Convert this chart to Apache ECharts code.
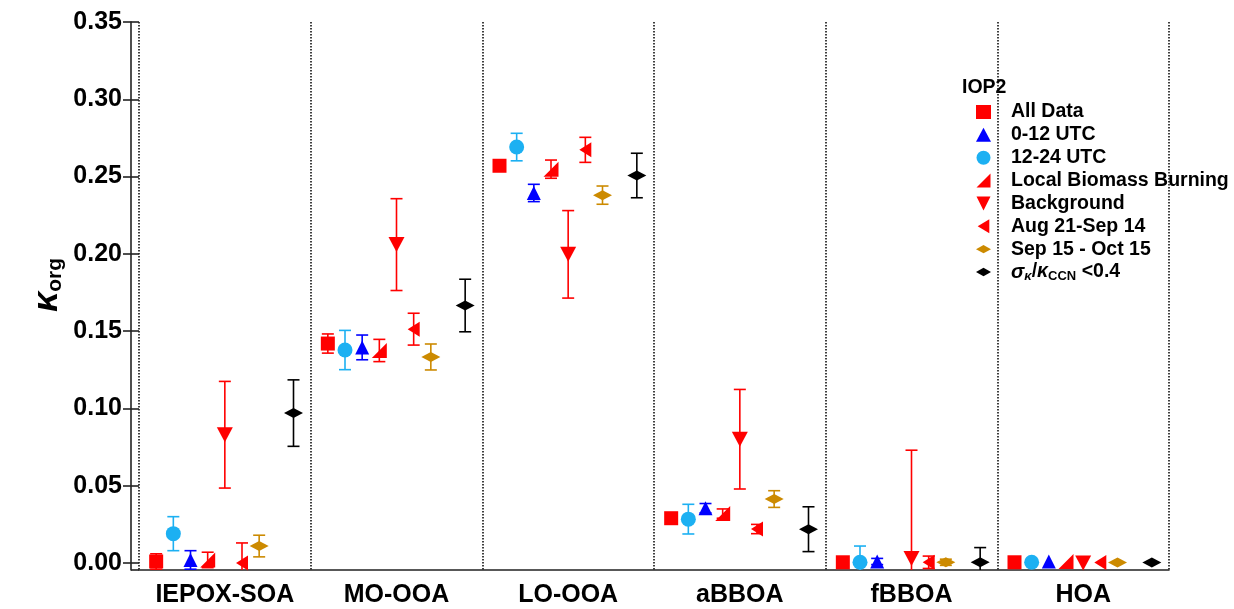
<!DOCTYPE html>
<html>
<head>
<meta charset="utf-8">
<script src="https://cdn.jsdelivr.net/npm/echarts@6/dist/echarts.min.js"></script>
<style>
  html, body { margin: 0; padding: 0; background: #fff; }
  #korgChart { width: 1234px; height: 609px; }
</style>
</head>
<body>
<div id="korgChart"></div>
<script>
// factor types on the x axis
const categories = ['IEPOX-SOA', 'MO-OOA', 'LO-OOA', 'aBBOA', 'fBBOA', 'HOA']
const yTicks = [0, 0.05, 0.10, 0.15, 0.20, 0.25, 0.30, 0.35]

// kappa_org and its error for every subset
const allData = [0.001, 0.142, 0.257, 0.029, 0.0005, 0.0005]
const allDataErr = [0.005, 0.0062, 0, 0, 0, 0]
const utc0012 = [0.002, 0.1395, 0.2394, 0.0355, 0.001, 0.001]
const utc0012Err = [0.006, 0.008, 0.0056, 0.003, 0.002, 0]
const utc1224 = [0.019, 0.1378, 0.2691, 0.0284, 0.0005, 0.0005]
const utc1224Err = [0.011, 0.0127, 0.0089, 0.0096, 0.0105, 0]
const localBB = [0.002, 0.1375, 0.2548, 0.032, null, 0.001]
const localBBErr = [0.005, 0.0072, 0.0059, 0.003, null, 0]
const background = [0.083, 0.206, 0.1997, 0.0801, 0.003, 0]
const backgroundErr = [0.0345, 0.0297, 0.0283, 0.0322, 0.070, 0]
const augSep = [0, 0.1513, 0.2673, 0.022, 0.0005, 0.0003]
const augSepErr = [0.013, 0.0103, 0.0081, 0.003, 0.004, 0]
const sepOct = [0.011, 0.1333, 0.238, 0.0414, 0.0005, 0.0003]
const sepOctErr = [0.007, 0.0084, 0.0059, 0.0054, 0.002, 0]
const lowSigma = [0.097, 0.1666, 0.2507, 0.0219, 0.0005, 0.0003]
const lowSigmaErr = [0.0215, 0.017, 0.0144, 0.0145, 0.0095, 0]

const Y_MIN = -0.0045
const Y_MAX = 0.35
const FONT = '"Liberation Sans", Arial, sans-serif'

const subsets = [
  { name: 'All Data', values: allData, errs: allDataErr, slot: -0.4, color: '#ff0000', symbol: 'rect', size: [14, 14] },
  { name: '0-12 UTC', values: utc0012, errs: utc0012Err, slot: -0.2, color: '#0000ff', symbol: 'triangle', size: [14, 14] },
  { name: '12-24 UTC', values: utc1224, errs: utc1224Err, slot: -0.3, color: '#1cb0f2', symbol: 'circle', size: [15, 15] },
  { name: 'Local Biomass Burning', values: localBB, errs: localBBErr, slot: -0.1, color: '#ff0000', symbol: 'path://M0,10 L10,10 L10,0 Z', size: [15, 15] },
  { name: 'Background', values: background, errs: backgroundErr, slot: 0, color: '#ff0000', symbol: 'path://M0,0 L10,0 L5,10 Z', size: [16, 15] },
  { name: 'Aug 21-Sep 14', values: augSep, errs: augSepErr, slot: 0.1, color: '#ff0000', symbol: 'path://M10,0 L10,12 L0,6 Z', size: [12, 15] },
  { name: 'Sep 15 - Oct 15', values: sepOct, errs: sepOctErr, slot: 0.2, color: '#cc8a00', symbol: 'path://M0,5 L9,0 L18,5 L9,10 Z', size: [19, 10] },
  { name: 'σκ/κCCN <0.4', values: lowSigma, errs: lowSigmaErr, slot: 0.4, color: '#000000', symbol: 'path://M0,5 L9,0 L18,5 L9,10 Z', size: [19, 10] }
]

function renderErrorBar(params, api) {
  const x = api.value(0)
  const lo = api.value(1)
  const hi = api.value(2)
  const top = api.coord([x, hi])
  const bot = api.coord([x, Math.max(lo, Y_MIN)])
  const cap = 6
  const style = { stroke: api.visual('color'), lineWidth: 1.6 }
  const children = [
    { type: 'line', shape: { x1: top[0], y1: top[1], x2: bot[0], y2: bot[1] }, style: style },
    { type: 'line', shape: { x1: top[0] - cap, y1: top[1], x2: top[0] + cap, y2: top[1] }, style: style }
  ]
  if (lo >= Y_MIN) {
    children.push({ type: 'line', shape: { x1: bot[0] - cap, y1: bot[1], x2: bot[0] + cap, y2: bot[1] }, style: style })
  }
  return { type: 'group', children: children }
}

const series = []
for (const s of subsets) {
  const points = []
  const bars = []
  s.values.forEach((v, i) => {
    if (v === null) return
    points.push([i + s.slot, v])
    if (s.errs[i] > 0) bars.push([i + s.slot, v - s.errs[i], v + s.errs[i]])
  })
  series.push({
    name: s.name,
    type: 'scatter',
    xAxisIndex: 1,
    symbol: s.symbol,
    symbolSize: s.size,
    itemStyle: { color: s.color, opacity: 1 },
    z: 4,
    data: points
  })
  series.push({
    name: s.name + ' err',
    type: 'custom',
    xAxisIndex: 1,
    renderItem: renderErrorBar,
    itemStyle: { color: s.color },
    z: 3,
    data: bars
  })
}

const richBase = { fontFamily: FONT, fontWeight: 'bold', fontSize: 19.5, color: '#000', lineHeight: 22 }
const legendRich = {
  a: Object.assign({}, richBase, { padding: [0, 0, 0, 15] }),
  n: Object.assign({}, richBase),
  g: Object.assign({}, richBase, { fontStyle: 'italic', fontSize: 20, padding: [0, 0, 0, 15] }),
  k: Object.assign({}, richBase, { fontStyle: 'italic', fontSize: 19.5 }),
  sk: Object.assign({}, richBase, { fontStyle: 'italic', fontSize: 13, lineHeight: 12, verticalAlign: 'bottom' }),
  s: Object.assign({}, richBase, { fontSize: 13, lineHeight: 12, verticalAlign: 'bottom' })
}

const myChart = echarts.init(document.getElementById('korgChart'))
myChart.setOption({
  backgroundColor: '#fff',
  animation: false,
  grid: { left: 139, right: 65, top: 22, bottom: 39 },
  legend: {
    orient: 'vertical',
    left: 976,
    top: 102,
    padding: 0,
    itemWidth: 15,
    itemHeight: 14,
    itemGap: 2.86,
    data: subsets.map(s => s.name),
    formatter: function (name) {
      if (name.indexOf('σ') === 0) return '{g|σ}{sk|κ}{n|/}{k|κ}{s|CCN}{n| <0.4}'
      return '{a|' + name + '}'
    },
    textStyle: { rich: legendRich }
  },
  xAxis: [
    {
      type: 'category',
      data: categories,
      boundaryGap: true,
      axisLine: { onZero: false, lineStyle: { color: '#222', width: 1.6 } },
      axisTick: { interval: 0, length: 17, lineStyle: { color: '#222', width: 1.6 } },
      axisLabel: { interval: 0, margin: 13, fontSize: 25, fontWeight: 'bold', fontFamily: FONT, color: '#000' },
      splitLine: { show: true, interval: 0, lineStyle: { color: '#111', width: 1.6, type: [1.5, 1.5] } }
    },
    { type: 'value', min: -0.5, max: 5.5, show: false }
  ],
  yAxis: [
    {
      type: 'value',
      position: 'left',
      min: Y_MIN,
      max: Y_MAX,
      offset: 8,
      axisLine: { show: true, onZero: false, lineStyle: { color: '#222', width: 1.6 } },
      axisTick: { show: true, length: 8, customValues: yTicks, lineStyle: { color: '#222', width: 1.6 } },
      axisLabel: {
        customValues: yTicks,
        margin: 9,
        fontSize: 25,
        fontWeight: 'bold',
        fontFamily: FONT,
        color: '#000',
        formatter: v => v.toFixed(2)
      },
      splitLine: { show: false }
    },
    {
      type: 'value',
      position: 'left',
      min: Y_MIN,
      max: Y_MAX,
      offset: 8,
      axisLine: { show: false, onZero: false },
      axisTick: { show: true, inside: true, length: 8, customValues: yTicks, lineStyle: { color: '#222', width: 1.6 } },
      axisLabel: { show: false },
      splitLine: { show: false }
    }
  ],
  graphic: [
    {
      type: 'text',
      left: 962,
      top: 78,
      style: { text: 'IOP2', font: 'bold 19.5px ' + FONT, fill: '#000' }
    },
    {
      type: 'text',
      x: 47,
      y: 285,
      rotation: Math.PI / 2,
      style: {
        text: '{k|κ}{s|org}',
        align: 'center',
        verticalAlign: 'middle',
        rich: {
          k: { fontFamily: FONT, fontSize: 36, fontStyle: 'italic', fontWeight: 'bold', lineHeight: 38, fill: '#000' },
          s: { fontFamily: FONT, fontSize: 21, fontWeight: 'bold', lineHeight: 20, verticalAlign: 'bottom', fill: '#000' }
        }
      }
    },
    {
      type: 'line',
      shape: { x1: 131, y1: 570, x2: 139, y2: 570 },
      style: { stroke: '#222', lineWidth: 1.6 }
    }
  ],
  series: series
})
</script>
</body>
</html>
